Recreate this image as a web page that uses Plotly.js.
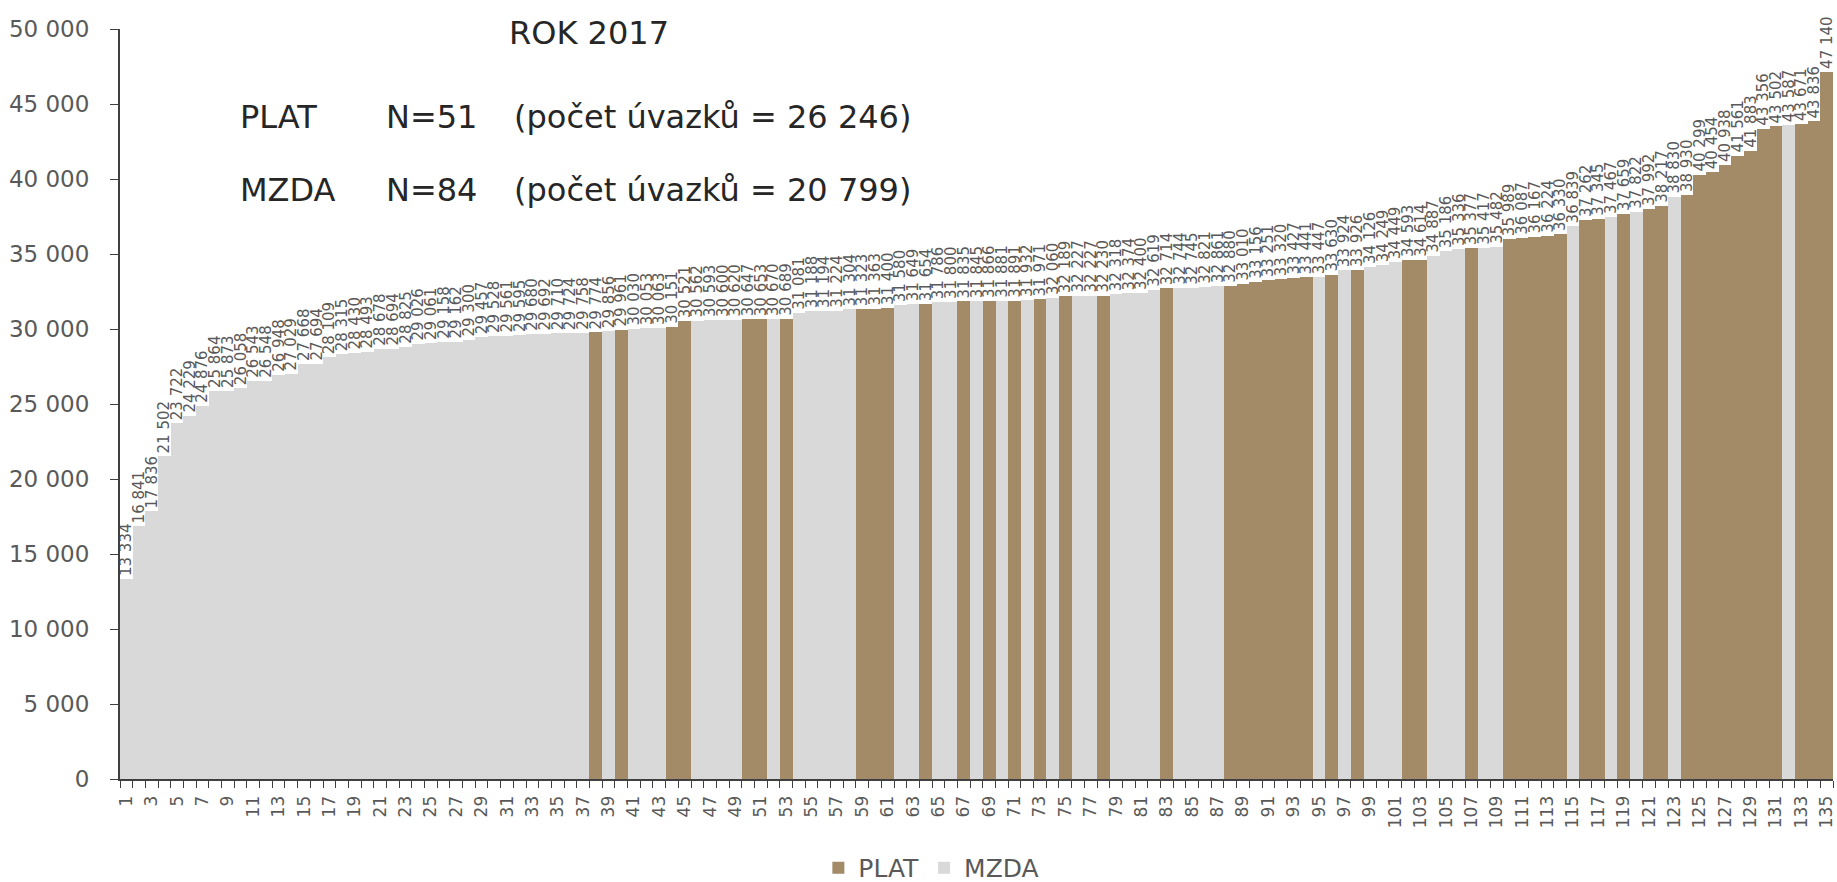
<!DOCTYPE html>
<html>
<head>
<meta charset="utf-8">
<script src="https://cdn.plot.ly/plotly-3.0.1.min.js"></script>
<style>html,body{margin:0;padding:0;background:#fff;}#chart{width:1837px;height:882px;}</style>
</head>
<body>
<div id="chart"></div>
<script>
// Mean wage per organisation, sorted ascending (bar number = position)
const values = [
  13334, 16841, 17836, 21502, 23722, 24229, 24876, 25864, 25873, 26058,
  26543, 26548, 26948, 27029, 27668, 27694, 28109, 28315, 28430, 28493,
  28678, 28694, 28825, 29026, 29061, 29158, 29162, 29300, 29457, 29528,
  29561, 29595, 29680, 29692, 29710, 29724, 29758, 29774, 29856, 29961,
  30030, 30053, 30063, 30151, 30521, 30562, 30593, 30600, 30620, 30647,
  30653, 30670, 30689, 31081, 31188, 31194, 31224, 31304, 31323, 31363,
  31400, 31580, 31649, 31654, 31786, 31800, 31835, 31845, 31866, 31881,
  31891, 31932, 31971, 32060, 32189, 32227, 32227, 32230, 32318, 32374,
  32400, 32619, 32714, 32744, 32745, 32821, 32861, 32880, 33010, 33156,
  33251, 33320, 33427, 33441, 33447, 33630, 33924, 33926, 34126, 34249,
  34449, 34593, 34614, 34887, 35186, 35336, 35377, 35417, 35482, 35989,
  36087, 36167, 36224, 36330, 36839, 37262, 37345, 37467, 37659, 37822,
  37992, 38217, 38830, 38930, 40299, 40454, 40938, 41561, 41883, 43356,
  43502, 43587, 43671, 43836, 47140
];
// P = PLAT, M = MZDA, one letter per bar
const groups = (
  "MMMMMMMMMM" + "MMMMMMMMMM" + "MMMMMMMMMM" + "MMMMMMMPMP" +
  "MMMPPMMMMP" + "PMPMMMMMPP" + "PMMPMMPMPM" + "PMPMPMMPMM" +
  "MMPMMMMPPP" + "PPPPMPMPMM" + "MPPMMMPMMP" + "PPPPMPPMPM" +
  "PPMPPPPPPP" + "PMPPP"
).split("");
const seriesNames = ["PLAT", "MZDA"];
const seriesCodes = ["P", "M"];
const seriesColors = ["#A38B68", "#D9D9D9"];
const xTickVals = [];
for (let i = 1; i <= values.length; i += 2) xTickVals.push(i);

const titleLines = [
  {text: "ROK 2017"},
  {label: "PLAT", n: "N=51", detail: "(počet úvazků = 26 246)"},
  {label: "MZDA", n: "N=84", detail: "(počet úvazků = 20 799)"}
];

function fmt(v) {
  return String(v).replace(/\B(?=(\d{3})+(?!\d))/g, " ");
}

const FONT = "DejaVu Sans, Verdana, sans-serif";
const traces = seriesNames.map((name, s) => {
  const xs = [], ys = [], ts = [];
  values.forEach((v, i) => {
    if (groups[i] === seriesCodes[s]) { xs.push(i + 1); ys.push(v); ts.push(fmt(v)); }
  });
  return {
    type: "bar", name: name, x: xs, y: ys, text: ts,
    textposition: "outside", textangle: -90, cliponaxis: false,
    constraintext: "none",
    textfont: {family: FONT, size: 15, color: "#595959"},
    outsidetextfont: {family: FONT, size: 15, color: "#595959"},
    marker: {color: seriesColors[s], line: {width: 0}},
    width: 1, hoverinfo: "x+y"
  };
});

const annFont = {family: FONT, size: 32, color: "#262626"};
const annotations = [
  {text: titleLines[0].text, x: 589, y: 33}
];
const rows = [117, 190];
const cols = [238, 384, 512];
for (let r = 0; r < 2; r++) {
  const L = titleLines[r + 1];
  [L.label, L.n, L.detail].forEach((t, c) => {
    annotations.push({text: t, x: cols[c], y: rows[r], xanchor: "left"});
  });
}
// convert pixel positions to paper coords
const ML = 120, MR = 4, MT = 29, MB = 103, W = 1837, H = 882;
const PW = W - ML - MR, PH = H - MT - MB;
annotations.forEach(a => {
  a.xref = "paper"; a.yref = "paper";
  a.x = (a.x - ML) / PW;
  a.y = 1 - (a.y - MT) / PH;
  a.yanchor = "middle";
  if (!a.xanchor) a.xanchor = "center";
  a.showarrow = false;
  a.font = annFont;
});

const layout = {
  width: W, height: H,
  margin: {l: ML, r: MR, t: MT, b: MB, pad: 0},
  paper_bgcolor: "#ffffff", plot_bgcolor: "#ffffff",
  barmode: "overlay", bargap: 0,
  separators: ", ",
  xaxis: {
    range: [0.5, values.length + 0.5],
    tickmode: "array", tickvals: xTickVals, ticktext: xTickVals.map(String),
    tickangle: -90, ticks: "", showgrid: false, zeroline: false,
    showline: true, linecolor: "#404040", linewidth: 2,
    ticklabelstandoff: 8,
    tickfont: {family: FONT, size: 17, color: "#595959"},
    minor: {tick0: 0.5, dtick: 1, ticks: "outside", ticklen: 7, tickcolor: "#404040", tickwidth: 1, showgrid: false},
    fixedrange: true
  },
  yaxis: {
    range: [0, 50000], dtick: 5000, tickformat: ",d",
    ticks: "outside", ticklen: 8, tickcolor: "#404040",
    showgrid: false, zeroline: false,
    showline: true, linecolor: "#404040", linewidth: 2,
    ticklabelstandoff: 16,
    tickfont: {family: FONT, size: 23, color: "#595959"},
    fixedrange: true
  },
  legend: {
    orientation: "h", xref: "container", yref: "container",
    x: 0.507, xanchor: "center", y: 0.016, yanchor: "middle",
    font: {family: FONT, size: 25, color: "#595959"},
    traceorder: "normal", itemwidth: 30
  },
  annotations: annotations,
  showlegend: true
};

Plotly.newPlot("chart", traces, layout, {displayModeBar: false, staticPlot: true});
</script>
</body>
</html>
